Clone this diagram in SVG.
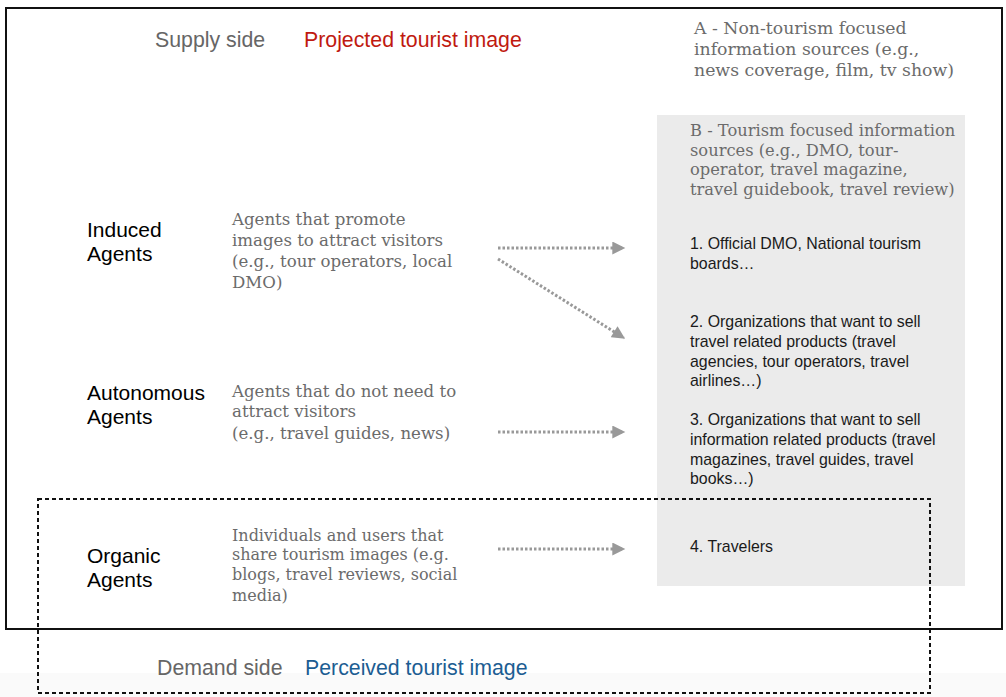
<svg xmlns="http://www.w3.org/2000/svg" width="1006" height="697" viewBox="0 0 1006 697">
<defs>
<style>
.sans{font-family:"Liberation Sans",Arial,sans-serif}
.serif{font-family:"DejaVu Serif","Liberation Serif",serif;fill:#6b6b6b}
.head{font-size:21.3px}
.agent{font-size:21px;fill:#000}
.desc{font-size:16.6px}
.item{font-size:15.9px;fill:#1a1a1a}
.conn{stroke:#999;stroke-width:3;stroke-dasharray:2.5 2;fill:none}
</style>
<marker id="ah" viewBox="0 0 10 10" refX="9" refY="5" markerWidth="14" markerHeight="13" markerUnits="userSpaceOnUse" orient="auto">
<path d="M0,0 L10,5 L0,10 Z" fill="#999"/>
</marker>
</defs>
<rect width="1006" height="697" fill="#fff"/>
<rect x="0" y="673" width="1006" height="24" fill="#fafafa"/>
<g id="frame">
<rect x="6" y="8" width="996" height="621" fill="none" stroke="#111" stroke-width="2"/>
</g>
<g id="panel-b">
<rect x="657" y="115" width="308" height="471" fill="#ebebeb"/>
</g>
<g id="demand-frame">
<rect x="38" y="499" width="892" height="194" fill="none" stroke="#111" stroke-width="2" stroke-dasharray="4 3"/>
</g>
<g id="supply-title">
<text class="sans head" x="155" y="47" fill="#666">Supply side</text>
<text class="sans head" x="304" y="47" fill="#c01a10">Projected tourist image</text>
</g>
<g id="demand-title">
<text class="sans head" x="157" y="675" fill="#666">Demand side</text>
<text class="sans head" x="305" y="675" fill="#1c5d92">Perceived tourist image</text>
</g>
<g id="source-a">
<text class="serif" font-size="17.3px"><tspan x="694" y="34">A - Non-tourism focused</tspan><tspan x="694" y="55">information sources (e.g.,</tspan><tspan x="694" y="76">news coverage, film, tv show)</tspan></text>
</g>
<g id="source-b">
<text class="serif" font-size="16.3px"><tspan x="690" y="136">B - Tourism focused information</tspan><tspan x="690" y="156">sources (e.g., DMO, tour-</tspan><tspan x="690" y="175">operator, travel magazine,</tspan><tspan x="690" y="195">travel guidebook, travel review)</tspan></text>
</g>
<g id="induced">
<text class="sans agent"><tspan x="87" y="237">Induced</tspan><tspan x="87" y="261">Agents</tspan></text>
<text class="serif desc"><tspan x="232" y="225">Agents that promote</tspan><tspan x="232" y="246">images to attract visitors</tspan><tspan x="232" y="267">(e.g., tour operators, local</tspan><tspan x="232" y="288">DMO)</tspan></text>
</g>
<g id="autonomous">
<text class="sans agent"><tspan x="87" y="400">Autonomous</tspan><tspan x="87" y="424">Agents</tspan></text>
<text class="serif desc"><tspan x="232" y="397">Agents that do not need to</tspan><tspan x="232" y="417">attract visitors</tspan><tspan x="232" y="439">(e.g., travel guides, news)</tspan></text>
</g>
<g id="organic">
<text class="sans agent"><tspan x="87" y="563">Organic</tspan><tspan x="87" y="587">Agents</tspan></text>
<text class="serif" font-size="16px"><tspan x="232" y="541">Individuals and users that</tspan><tspan x="232" y="560">share tourism images (e.g.</tspan><tspan x="232" y="580">blogs, travel reviews, social</tspan><tspan x="232" y="601">media)</tspan></text>
</g>
<g id="item1">
<text class="sans item"><tspan x="690" y="249">1. Official DMO, National tourism</tspan><tspan x="690" y="269">boards…</tspan></text>
</g>
<g id="item2">
<text class="sans item"><tspan x="690" y="327">2. Organizations that want to sell</tspan><tspan x="690" y="347">travel related products (travel</tspan><tspan x="690" y="367">agencies, tour operators, travel</tspan><tspan x="690" y="386">airlines…)</tspan></text>
</g>
<g id="item3">
<text class="sans item"><tspan x="690" y="425">3. Organizations that want to sell</tspan><tspan x="690" y="445">information related products (travel</tspan><tspan x="690" y="465">magazines, travel guides, travel</tspan><tspan x="690" y="484">books…)</tspan></text>
</g>
<g id="item4">
<text class="sans item" x="690" y="552">4. Travelers</text>
</g>
<g id="connectors">
<line class="conn" x1="498" y1="248" x2="624" y2="248" marker-end="url(#ah)"/>
<line class="conn" x1="498" y1="259" x2="624" y2="338" marker-end="url(#ah)"/>
<line class="conn" x1="498" y1="432" x2="624" y2="432" marker-end="url(#ah)"/>
<line class="conn" x1="498" y1="549" x2="624" y2="549" marker-end="url(#ah)"/>
</g>
</svg>
